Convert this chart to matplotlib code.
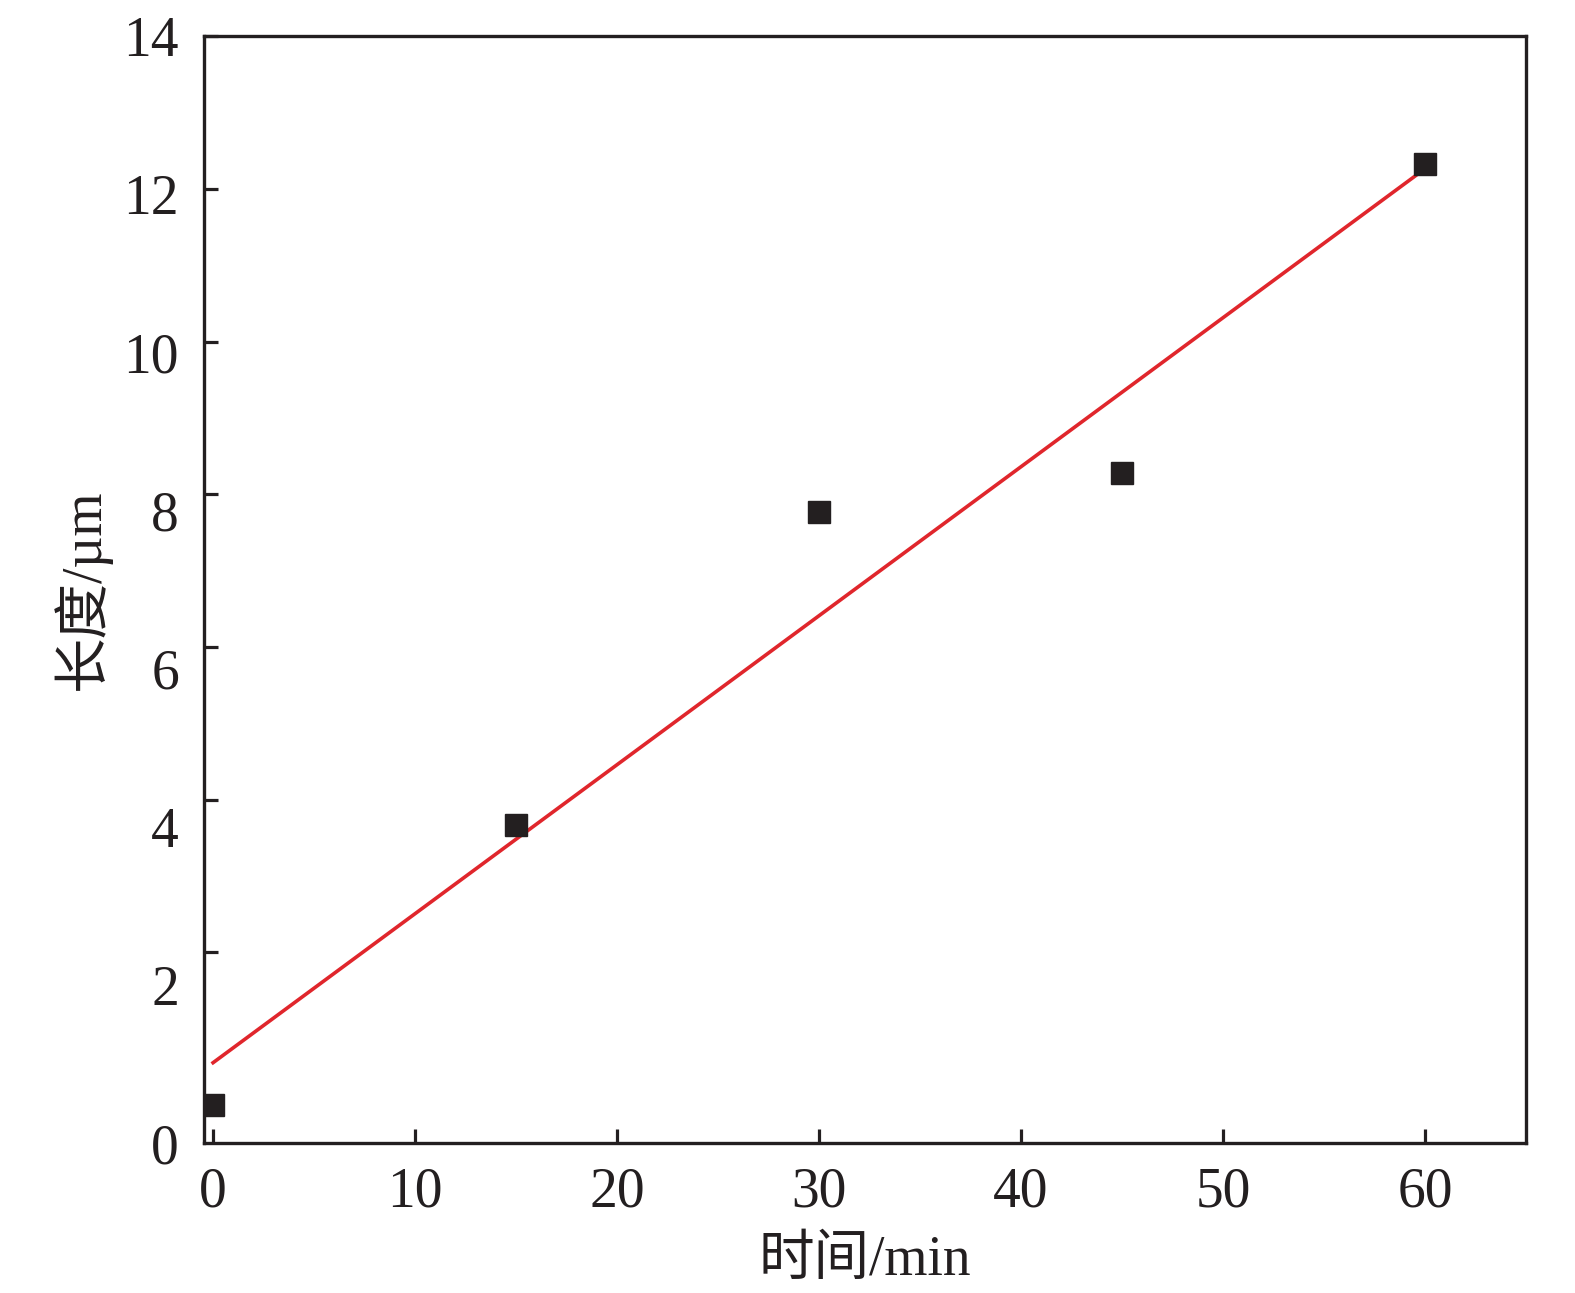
import numpy as np
import matplotlib.pyplot as plt

plt.rcParams['font.family'] = ['Liberation Serif', 'Noto Sans CJK SC']
plt.rcParams['mathtext.fontset'] = 'stix'

# 数据
time_min = [0, 15, 30, 45, 60]
length_um = [0.0, 3.66, 7.77, 8.28, 12.33]
x_ticks = [0, 10, 20, 30, 40, 50, 60]
y_ticks = [0, 2, 4, 6, 8, 10, 12, 14]

y_lo, y_hi = -0.5, 14.0

fig = plt.figure(figsize=(15.75, 12.93), dpi=100)
ax = fig.add_axes([0.1295, 0.116, 0.9689 - 0.1295, 0.972 - 0.116])

# 线性拟合
k, b = np.polyfit(time_min, length_um, 1)
xf = np.array([time_min[0], time_min[-1]])
ax.plot(xf, k * xf + b, color='#e0262c', lw=2.6, zorder=2)

ax.plot(time_min, length_um, ls='none', marker='s', ms=16.5, color='#231f20', zorder=3)

ax.set_xlim(-0.45, 65)
ax.set_ylim(y_lo, y_hi)
ax.set_xticks(x_ticks)
ax.set_yticks(y_ticks)
ax.tick_params(direction='in', length=10, width=2.3, labelsize=40, pad=17)
ax.tick_params(axis='y', labelleft=False)
for s in ax.spines.values():
    s.set_linewidth(2.4)
    s.set_color('#231f20')
ax.tick_params(colors='#231f20')

# y轴刻度标签(原图标签均匀分布于 0~14)
def fwd(y):
    return (y - y_lo) / (y_hi - y_lo) * 14

def inv(s):
    return s / 14 * (y_hi - y_lo) + y_lo

sec = ax.secondary_yaxis('left', functions=(fwd, inv))
sec.set_yticks(y_ticks)
sec.tick_params(length=0, labelsize=40, pad=18, colors='#231f20')
sec.spines['left'].set_visible(False)

ax.set_xlabel('时间/min', fontsize=40, labelpad=12, color='#231f20')
sec.set_ylabel('长度/µm', fontsize=40, labelpad=9, color='#231f20')

fig.savefig('out.png', dpi=100)
